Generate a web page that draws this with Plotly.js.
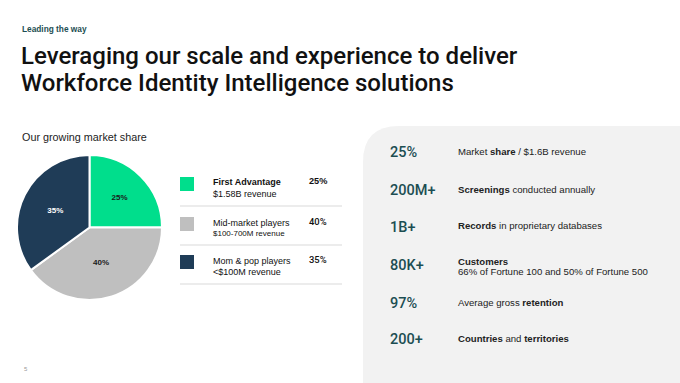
<!DOCTYPE html>
<html><head><meta charset="utf-8">
<script src="https://cdn.plot.ly/plotly-3.0.1.min.js"></script>
<style>html,body{margin:0;padding:0;background:#fff}#chart{width:680px;height:383px}</style>
</head><body><div id="chart"></div>
<script>
// ---- data ----
const segments = ["First Advantage", "Mid-market players", "Mom & pop players"];
const shares = [25, 40, 35];
const segmentRevenue = ["$1.58B revenue", "$100-700M revenue", "<$100M revenue"];
const segmentColors = ["#00DE8C", "#BFBFBF", "#1F3C57"];
const sliceTextColors = ["#1a1a1a", "#1a1a1a", "#ffffff"];

const statValues = ["25%", "200M+", "1B+", "80K+", "97%", "200+"];
const statLines = [
  ["Market <b>share</b> / $1.6B revenue"],
  ["<b>Screenings</b> conducted annually"],
  ["<b>Records</b> in proprietary databases"],
  ["<b>Customers</b>", "66% of Fortune 100 and 50% of Fortune 500"],
  ["Average gross <b>retention</b>"],
  ["<b>Countries</b> and <b>territories</b>"]
];

const W = 680, H = 383;
const px = x => x / W, py = y => 1 - y / H;
const FONT = "Liberation Sans, Arial, sans-serif";
const HEAD = "Roboto, Liberation Sans, sans-serif";
const TEAL = "#1C4E52";

const annotations = [];
const shapes = [];
function txt(x, y, text, size, color, family, weight) {
  annotations.push({
    xref: "paper", yref: "paper", x: px(x), y: py(y), text: text,
    showarrow: false, xanchor: "left", yanchor: "middle",
    font: {family: family || FONT, size: size, color: color, weight: weight || "normal"}
  });
}

// header
txt(20, 29, "<b>Leading the way</b>", 8.3, TEAL);
txt(19, 56, "Leveraging our scale and experience to deliver", 24, "#111111", HEAD, 500);
txt(19, 83, "Workforce Identity Intelligence solutions", 24, "#111111", HEAD, 500);
txt(20, 137, "Our growing market share", 10.8, "#222222");
txt(22, 369, "5", 6, "#999999");

// right panel with rounded top-left corner
const L = 363, T = 126, R = 36;
shapes.push({
  type: "path", xref: "paper", yref: "paper", layer: "below",
  path: `M ${px(L)} ${py(H)} L ${px(L)} ${py(T + R)} Q ${px(L)} ${py(T)} ${px(L + R)} ${py(T)} L ${px(W)} ${py(T)} L ${px(W)} ${py(H)} Z`,
  fillcolor: "#F2F2F2", line: {width: 0}
});

// legend block
const nameY = [182, 223, 261];
const revY = [194, 233, 272];
const pctY = [181, 221, 259];
const squareY = [177, 217, 255];
const sepY = [206, 245, 284];
for (let i = 0; i < segments.length; i++) {
  shapes.push({
    type: "rect", xref: "paper", yref: "paper",
    x0: px(180), x1: px(194), y0: py(squareY[i]), y1: py(squareY[i] + 14),
    fillcolor: segmentColors[i], line: {width: 0}
  });
  shapes.push({
    type: "line", xref: "paper", yref: "paper",
    x0: px(180), x1: px(342), y0: py(sepY[i]), y1: py(sepY[i]),
    line: {color: "#D9D9D9", width: 1}
  });
  const name = i === 0 ? "<b>" + segments[i] + "</b>" : segments[i];
  txt(211, nameY[i], name, 9, "#111111");
  txt(211, revY[i], segmentRevenue[i], i === 1 ? 8 : 9, "#111111");
  if (i === 0) txt(307, pctY[i], "<b>" + shares[i] + "%</b>", 9.2, "#111111");
  else txt(307, pctY[i], shares[i] + "%", 9.4, "#111111", HEAD, 500);
}

// stats
const statY = [152, 190, 227, 265, 303, 339];
for (let i = 0; i < statValues.length; i++) {
  txt(388, statY[i], statValues[i], 14.5, TEAL, HEAD, 500);
  const lines = statLines[i];
  if (lines.length === 1) {
    txt(456, statY[i] - 1, lines[0], 9.6, "#222222");
  } else {
    txt(456, statY[i] - 4, lines[0], 9.6, "#222222");
    txt(456, statY[i] + 6, lines[1], 9.6, "#222222");
  }
}

const data = [{
  type: "pie",
  values: shares,
  labels: segments,
  text: shares.map(v => v + "%"),
  textinfo: "text",
  textposition: "inside",
  insidetextorientation: "horizontal",
  insidetextfont: {family: FONT, size: 8, color: sliceTextColors, weight: "bold"},
  sort: false,
  direction: "clockwise",
  rotation: 0,
  marker: {colors: segmentColors, line: {color: "#ffffff", width: 2}},
  domain: {x: [px(17), px(162)], y: [py(300), py(155)]},
  hoverinfo: "none",
  showlegend: false
}];

const layout = {
  width: W, height: H,
  margin: {l: 0, r: 0, t: 0, b: 0},
  paper_bgcolor: "#ffffff",
  showlegend: false,
  annotations: annotations,
  shapes: shapes
};
Plotly.newPlot("chart", data, layout, {displayModeBar: false, staticPlot: true});
</script></body></html>
